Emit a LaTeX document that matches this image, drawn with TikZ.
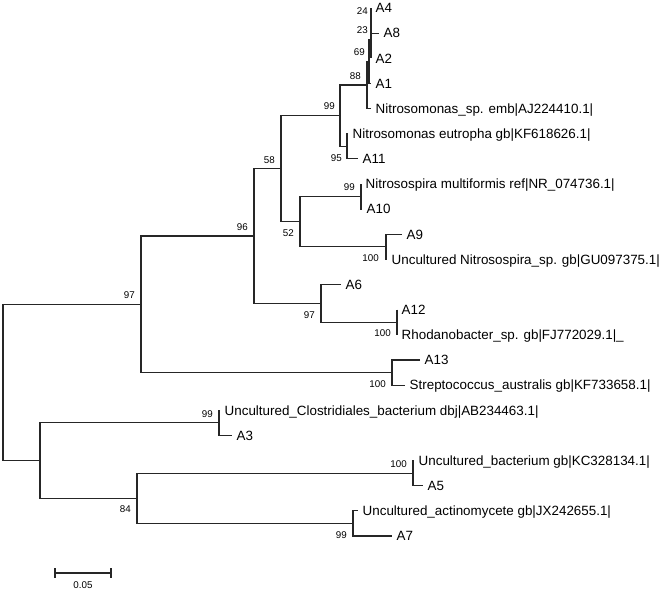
\documentclass[tikz,border=0pt]{standalone}
\usepackage{fontspec}
\setmainfont{Liberation Sans}
\usetikzlibrary{positioning}
\tikzset{
	branch/.style={line width=1.2pt, color=black!85},
	taxon/.style={inner sep=0pt, text height=9.6pt, text depth=0pt, font=\fontsize{13.4}{13.4}\selectfont},
	boot/.style={inner sep=0pt, text height=7pt, text depth=0pt, font=\fontsize{9.8}{9.8}\selectfont},
}
\def\clade(#1)(#2)(#3){\draw[branch] (#2) -| (#1) |- (#3);}

\begin{document}
\begin{tikzpicture}[x=1pt,y=-1pt]
			%%%%% START %%%%%
			\useasboundingbox (0,0) rectangle (661,592);
			
			% inner nodes
			\coordinate (root) at (3,382.4);
			\coordinate (n97a) at (141,304.3);
			\coordinate (n96) at (254,236);
			\coordinate (n58) at (281,168.7);
			\coordinate (n99a) at (340,115.6);
			\coordinate (n88) at (367,85);
			\coordinate (n69) at (369,61.4);
			\coordinate (n23) at (371,39.4);
			\coordinate (n24) at (371,20.6);
			\coordinate (n95) at (347,146.3);
			\coordinate (n52) at (300,221.7);
			\coordinate (n99b) at (361,196.6);
			\coordinate (n100a) at (386,246.8);
			\coordinate (n97b) at (321,303.4);
			\coordinate (n100b) at (397,322.2);
			\coordinate (n100c) at (392,372.6);
			\coordinate (nbot) at (40,460.5);
			\coordinate (n99c) at (219,422.8);
			\coordinate (n84) at (137,498.3);
			\coordinate (n100d) at (413,473.1);
			\coordinate (n99d) at (353,523.4);
			
			% leaves
			\coordinate (A4) at (371,8);
			\coordinate (A8) at (379,33.1);
			\coordinate (A2) at (371,58.3);
			\coordinate (A1) at (371,83.4);
			\coordinate (Nsp) at (371,108.6);
			\coordinate (Neu) at (348,133.7);
			\coordinate (A11) at (358,158.8);
			\coordinate (Nmu) at (361,184);
			\coordinate (A10) at (362,209.1);
			\coordinate (A9) at (402,234.3);
			\coordinate (UNsp) at (387,259.4);
			\coordinate (A6) at (341,284.5);
			\coordinate (A12) at (397,309.7);
			\coordinate (Rsp) at (397,334.8);
			\coordinate (A13) at (420,360);
			\coordinate (Sau) at (405,385.1);
			\coordinate (UCl) at (220,410.2);
			\coordinate (A3) at (232,435.4);
			\coordinate (Uba) at (414,460.5);
			\coordinate (A5) at (423,485.7);
			\coordinate (Uac) at (358,510.8);
			\coordinate (A7) at (392,536);
			
			% branches
			\clade(root)(n97a)(nbot)
			\clade(n97a)(n96)(n100c)
			\clade(n96)(n58)(n97b)
			\clade(n58)(n99a)(n52)
			\clade(n99a)(n88)(n95)
			\clade(n88)(n69)(Nsp)
			\clade(n69)(n23)(A1)
			\clade(n23)(n24)(A2)
			\clade(n24)(A4)(A8)
			\clade(n95)(Neu)(A11)
			\clade(n52)(n99b)(n100a)
			\clade(n99b)(Nmu)(A10)
			\clade(n100a)(A9)(UNsp)
			\clade(n97b)(A6)(n100b)
			\clade(n100b)(A12)(Rsp)
			\clade(n100c)(A13)(Sau)
			\clade(nbot)(n99c)(n84)
			\clade(n99c)(UCl)(A3)
			\clade(n84)(n100d)(n99d)
			\clade(n100d)(Uba)(A5)
			\clade(n99d)(Uac)(A7)
			
			% taxa
			\node[taxon, right=4.5pt of A4] (tA4) {A4};
			\node[taxon, right=4.5pt of A8] (tA8) {A8};
			\node[taxon, right=4.5pt of A2] (tA2) {A2};
			\node[taxon, right=4.5pt of A1] (tA1) {A1};
			\node[taxon, right=4.5pt of Nsp] (tNsp) {Nitrosomonas\_sp. emb|AJ224410.1|};
			\node[taxon, right=4.5pt of Neu] (tNeu) {Nitrosomonas eutropha gb|KF618626.1|};
			\node[taxon, right=4.5pt of A11] (tA11) {A11};
			\node[taxon, right=4.5pt of Nmu] (tNmu) {Nitrosospira multiformis ref|NR\_074736.1|};
			\node[taxon, right=4.5pt of A10] (tA10) {A10};
			\node[taxon, right=4.5pt of A9] (tA9) {A9};
			\node[taxon, right=4.5pt of UNsp] (tUNsp) {Uncultured Nitrosospira\_sp. gb|GU097375.1|};
			\node[taxon, right=4.5pt of A6] (tA6) {A6};
			\node[taxon, right=4.5pt of A12] (tA12) {A12};
			\node[taxon, right=4.5pt of Rsp] (tRsp) {Rhodanobacter\_sp. gb|FJ772029.1|\_};
			\node[taxon, right=4.5pt of A13] (tA13) {A13};
			\node[taxon, right=4.5pt of Sau] (tSau) {Streptococcus\_australis gb|KF733658.1|};
			\node[taxon, right=4.5pt of UCl] (tUCl) {Uncultured\_Clostridiales\_bacterium dbj|AB234463.1|};
			\node[taxon, right=4.5pt of A3] (tA3) {A3};
			\node[taxon, right=4.5pt of Uba] (tUba) {Uncultured\_bacterium gb|KC328134.1|};
			\node[taxon, right=4.5pt of A5] (tA5) {A5};
			\node[taxon, right=4.5pt of Uac] (tUac) {Uncultured\_actinomycete gb|JX242655.1|};
			\node[taxon, right=4.5pt of A7] (tA7) {A7};
			
			% bootstrap values
			\node[boot, above left=5.5pt and 3pt of n24] (b24) {24};
			\node[boot, above left=5.5pt and 3pt of n23] (b23) {23};
			\node[boot, above left=5.5pt and 4pt of n69] (b69) {69};
			\node[boot, above left=5.5pt and 6pt of n88] (b88) {88};
			\node[boot, above left=5.5pt and 5pt of n99a] (b99a) {99};
			\node[boot, below left=7.5pt and 5pt of n95] (b95) {95};
			\node[boot, above left=5.5pt and 6pt of n58] (b58) {58};
			\node[boot, below left=7.5pt and 6pt of n52] (b52) {52};
			\node[boot, above left=5.5pt and 6pt of n99b] (b99b) {99};
			\node[boot, below left=7.5pt and 7pt of n100a] (b100a) {100};
			\node[boot, above left=5.5pt and 6pt of n96] (b96) {96};
			\node[boot, below left=7.5pt and 6pt of n97b] (b97b) {97};
			\node[boot, below left=7.5pt and 6pt of n100b] (b100b) {100};
			\node[boot, above left=6pt and 6pt of n97a] (b97a) {97};
			\node[boot, below left=7.5pt and 6pt of n100c] (b100c) {100};
			\node[boot, above left=5.5pt and 6pt of n99c] (b99c) {99};
			\node[boot, below left=6.5pt and 6pt of n84] (b84) {84};
			\node[boot, above left=5.5pt and 6pt of n100d] (b100d) {100};
			\node[boot, below left=7.5pt and 6pt of n99d] (b99d) {99};
			
			% scale bar
			\coordinate (sbl) at (55,573);
			\coordinate (sbr) at (111,573);
			\coordinate (sbm) at (83,573);
			\draw[branch] (sbl) -- (sbr);
			\draw[branch] ([yshift=5pt]sbl) -- ([yshift=-5pt]sbl);
			\draw[branch] ([yshift=5pt]sbr) -- ([yshift=-5pt]sbr);
			\node[boot, below=8.5pt of sbm] (sblabel) {0.05};
			
			%%%%% END %%%%%
\end{tikzpicture}
\end{document}
